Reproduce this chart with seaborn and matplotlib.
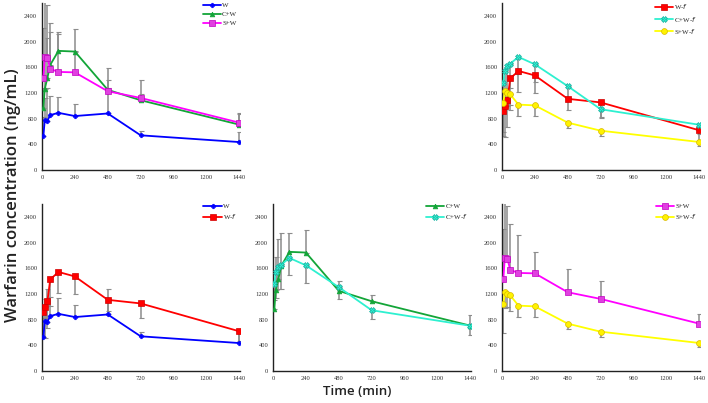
import matplotlib
matplotlib.use("Agg")
import matplotlib.pyplot as plt
import pandas as pd
import seaborn as sns
import numpy as np

# ---------------------------------------------------------------
# data
# ---------------------------------------------------------------
tempo = [10, 20, 40, 60, 120, 240, 480, 720, 1440]

w_media = [525, 775, 770, 855, 890, 840, 880, 540, 435]
w_erro = [300, 350, 500, 290, 250, 190, 390, 70, 150]

cw_media = [970, 1260, 1440, 1636, 1855, 1844, 1248, 1086, 706]
cw_erro = [300, 520, 620, 510, 300, 350, 150, 95, 170]

sw_media = [1435, 1755, 1745, 1573, 1527, 1520, 1226, 1122, 737]
sw_erro = [770, 900, 830, 715, 590, 335, 365, 285, 155]

wf_media = [925, 997, 1092, 1425, 1542, 1472, 1108, 1052, 618]
wf_erro = [400, 480, 420, 420, 320, 270, 175, 230, 150]

cwf_media = [1351, 1547, 1620, 1656, 1760, 1645, 1305, 946, 704]
cwf_erro = [250, 415, 350, 385, 265, 270, 190, 135, 140]

swf_media = [1038, 1226, 1194, 1178, 1018, 1006, 737, 612, 436]
swf_erro = [450, 250, 200, 245, 180, 160, 90, 90, 65]

grupos = ["W", "C+W", "S+W", "W-f", "C+W-f", "S+W-f"]
rotulos = ["W", "C+W", "S+W", "W-$f$", "C+W-$f$", "S+W-$f$"]
medias = [w_media, cw_media, sw_media, wf_media, cwf_media, swf_media]
erros = [w_erro, cw_erro, sw_erro, wf_erro, cwf_erro, swf_erro]
# barras para cima nos grupos sem f, para baixo nos grupos com f
direcao = [1, 1, 1, -1, -1, -1]

# paineis: (linha, coluna, grupos)
paineis = [
    (0, 0, ["W", "C+W", "S+W"]),
    (0, 2, ["W-f", "C+W-f", "S+W-f"]),
    (1, 0, ["W", "W-f"]),
    (1, 1, ["C+W", "C+W-f"]),
    (1, 2, ["S+W", "S+W-f"]),
]

registros = []
for g, m, e, d in zip(grupos, medias, erros, direcao):
    for t, v, ev in zip(tempo, m, e):
        registros.append({"grupo": g, "tempo": t, "conc": v, "erro": ev, "dir": d})
df = pd.DataFrame(registros)

# ---------------------------------------------------------------
# estilo
# ---------------------------------------------------------------
sns.set_style("white")
plt.rcParams["font.family"] = ["Liberation Serif", "DejaVu Sans"]

estilos = {
    "W": dict(color="#0000FF", marker="P", mfc="#0000FF", mec="#0000FF", ms=3.2),
    "C+W": dict(color="#13A538", marker="^", mfc="#13A538", mec="#13A538", ms=3.4),
    "S+W": dict(color="#FF00FF", marker="s", mfc="#E040E0", mec="#C000C0", ms=3.8),
    "W-f": dict(color="#FF0000", marker="s", mfc="#FF0000", mec="#D00000", ms=4.2),
    "C+W-f": dict(color="#2EF0D0", marker="X", mfc="#2EF0D0", mec="#18B0A0", ms=4.0),
    "S+W-f": dict(color="#FFFF00", marker="o", mfc="#FFF200", mec="#D8B800", ms=4.2),
}

fig = plt.figure(figsize=(7.08, 4.03), dpi=100)
lefts = [42 / 708, 273 / 708, 502 / 708]
bottoms = [1 - 170 / 403, 1 - 371 / 403]
largura = 198 / 708
altura = 167 / 403

for lin, col, gs in paineis:
    ax = fig.add_axes([lefts[col], bottoms[lin], largura, altura])
    # barras de erro primeiro (ficam atras das linhas)
    for g in gs:
        d = df[df["grupo"] == g]
        zeros = np.zeros(len(d))
        if d["dir"].iloc[0] > 0:
            yerr = [zeros, d["erro"].values]
        else:
            yerr = [d["erro"].values, zeros]
        eb = ax.errorbar(d["tempo"], d["conc"], yerr=yerr, fmt="none",
                         ecolor="#8c8c8c", elinewidth=1.1, capsize=1.8,
                         capthick=0.8, zorder=1, clip_on=True)
        for c in eb[1]:
            c.set_color("#404040")
    for g in gs:
        d = df[df["grupo"] == g]
        st = estilos[g]
        sns.lineplot(data=d, x="tempo", y="conc", ax=ax, color=st["color"],
                     marker=st["marker"], markersize=st["ms"],
                     markerfacecolor=st["mfc"], markeredgecolor=st["mec"],
                     markeredgewidth=0.5, linewidth=1.3, zorder=3,
                     label=rotulos[grupos.index(g)], errorbar=None)
    ax.set_xlim(0, 1445)
    ax.set_ylim(0, 2600)
    ax.set_xticks(range(0, 1441, 240))
    ax.set_yticks(range(0, 2401, 400))
    ax.tick_params(axis="both", labelsize=4.7, labelcolor="#333333",
                   length=2, width=0.6, pad=1.5, direction="out", color="#555555")
    ax.set_xlabel("")
    ax.set_ylabel("")
    for s in ["top", "right"]:
        ax.spines[s].set_visible(False)
    for s in ["left", "bottom"]:
        ax.spines[s].set_color("#222222")
        ax.spines[s].set_linewidth(1.0)
    leg = ax.legend(loc="upper right", frameon=False, fontsize=5,
                    handlelength=2.6, handletextpad=0.2, labelspacing=0.45,
                    borderaxespad=0.0, bbox_to_anchor=(1.0, 1.02))

fig.text(0.018, 0.515, "Warfarin concentration (ng/mL)", rotation=90,
         ha="center", va="center", fontsize=12, family="Open Sans",
         fontweight="semibold", color="#222222")
fig.text(0.505, 0.028, "Time (min)", ha="center", va="center",
         fontsize=9.5, family="Open Sans", fontweight="semibold",
         color="#222222")

fig.savefig("out.png", dpi=100)
